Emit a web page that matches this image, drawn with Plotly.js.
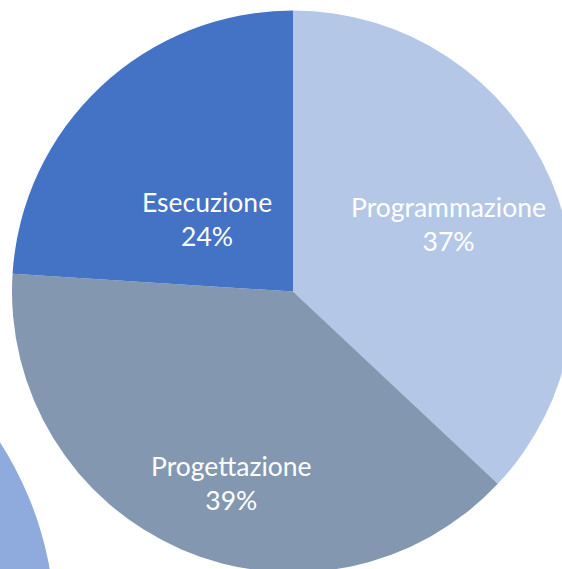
<!DOCTYPE html>
<html>
<head>
<meta charset="utf-8">
<script src="https://cdn.plot.ly/plotly-3.0.1.min.js"></script>
<style>
  html, body { margin: 0; padding: 0; width: 562px; height: 569px; overflow: hidden; background: #ffffff; }
  #chart { position: absolute; left: -650px; top: 0px; width: 1240px; height: 1000px; }
</style>
</head>
<body>
<div id="chart"></div>
<script>
// ---- data ----
const labels = ['Programmazione', 'Progettazione', 'Esecuzione'];
const values = [37, 39, 24];
const colors = ['#B4C7E7', '#8497B0', '#4472C4'];

// partial neighbouring pie (single slice) visible bottom-left
const bgLabels = ['Altro'];
const bgValues = [1];
const bgColors = ['#8FAADC'];

// ---- layout (styling / positioning) ----
const X0 = -650, Y0 = 0, W = 1240, H = 1000;     // paper placement in window px
const mainPie = { cx: 293, cy: 291.5, r: 281 };
const bgPie = { cx: -292, cy: 630, r: 347 };
const labelRadius = [0.603, 0.715, 0.398];
const labelAngleOffset = [0, -5.7, -6.7];

function px2x(x) { return (x - X0) / W; }
function px2y(y) { return (Y0 + H - y) / H; }
function domainOf(p) {
  return {
    x: [px2x(p.cx - p.r), px2x(p.cx + p.r)],
    y: [px2y(p.cy + p.r), px2y(p.cy - p.r)]
  };
}

const total = values.reduce((a, b) => a + b, 0);
const annotations = [];
let cum = 0;
values.forEach((v, i) => {
  const mid = ((cum + v / 2) / total) * 360 + labelAngleOffset[i];
  cum += v;
  const a = mid * Math.PI / 180;
  const rr = labelRadius[i] * mainPie.r;
  const x = mainPie.cx + rr * Math.sin(a);
  const y = mainPie.cy - rr * Math.cos(a);
  annotations.push({
    x: px2x(x), y: px2y(y), xref: 'paper', yref: 'paper',
    xanchor: 'center', yanchor: 'middle', showarrow: false,
    text: labels[i] + '<br>' + Math.round(v / total * 100) + '%',
    font: { family: 'Lato, "Open Sans", sans-serif', size: 26.5, weight: 400, color: '#ffffff' },
    align: 'center'
  });
});

const traces = [
  {
    type: 'pie', labels: bgLabels, values: bgValues,
    marker: { colors: bgColors, line: { width: 0 } },
    textinfo: 'none', hoverinfo: 'skip', sort: false,
    domain: domainOf(bgPie)
  },
  {
    type: 'pie', labels: labels, values: values,
    marker: { colors: colors, line: { width: 0 } },
    textinfo: 'none', hoverinfo: 'label+percent',
    sort: false, direction: 'clockwise', rotation: 0,
    domain: domainOf(mainPie)
  }
];

const layout = {
  width: W, height: H,
  margin: { l: 0, r: 0, t: 0, b: 0, pad: 0 },
  showlegend: false,
  paper_bgcolor: '#ffffff',
  annotations: annotations
};

Plotly.newPlot('chart', traces, layout, { displayModeBar: false, staticPlot: true });
</script>
</body>
</html>
